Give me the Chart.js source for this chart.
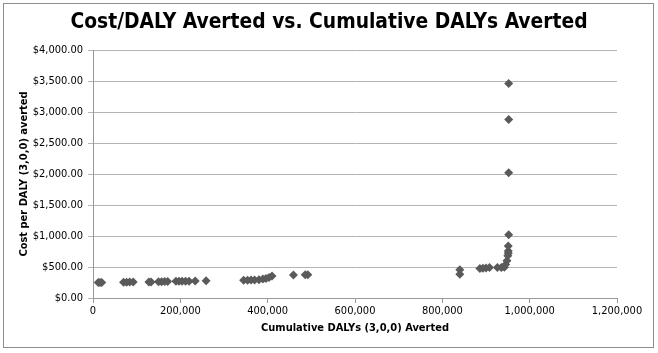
<!DOCTYPE html>
<html>
<head>
<meta charset="utf-8">
<script src="https://cdn.jsdelivr.net/npm/chart.js@4/dist/chart.umd.min.js"></script>
<style>
html,body{margin:0;padding:0;background:#fff;}
#wrap{position:absolute;left:0;top:0;width:658px;height:353px;}
</style>
</head>
<body>
<div id="wrap"><canvas id="c" width="658" height="353"></canvas></div>
<script>
const chartTitle = "Cost/DALY Averted vs. Cumulative DALYs Averted";
const xTitle = "Cumulative DALYs (3,0,0) Averted";
const yTitle = "Cost per DALY (3,0,0) averted";

const cumulativeDALYs = [12000,16000,20000, 70000,77000,84000,92000, 128000,133000,
  150000,157000,164000,171000, 190000,197000,204000,212000,220000, 234000, 259000,
  345000,354000,362000,370000,380000,389000,396000,403000,410000, 459000, 486000,492000,
  840000,840000, 886000,893000,900000,908000, 926000,935000,942000, 945000, 948000,
  950000,951000,951000,951000,952000,952000,952000,952000];
const costPerDALY = [250,250,250, 255,255,257,257, 258,258,
  262,262,265,265, 270,270,272,272,272, 275, 280,
  285,285,290,290,295,305,315,330,355, 370, 375,375,
  455,385, 475,480,485,490, 490,490,495, 540, 600,
  680,720,760,840,1020,2020,2880,3460];

const xMin = 0, xMax = 1200000, xStep = 200000;
const yMin = 0, yMax = 4000, yStep = 500;

const points = cumulativeDALYs.map((x, i) => ({x: x, y: costPerDALY[i]}));

const frame = {
  id: 'frame',
  beforeDraw(chart) {
    const ctx = chart.ctx;
    ctx.save();
    ctx.fillStyle = '#fff';
    ctx.fillRect(0, 0, chart.width, chart.height);
    ctx.strokeStyle = '#8c8c8c';
    ctx.lineWidth = 1;
    ctx.strokeRect(3.5, 3.5, 650, 344);
    ctx.restore();
  },
  afterDraw(chart) {
    const ctx = chart.ctx;
    ctx.save();
    ctx.fillStyle = '#000';
    ctx.font = 'bold 20.8px "DejaVu Sans Condensed"';
    ctx.textAlign = 'center';
    ctx.textBaseline = 'middle';
    ctx.fillText(chartTitle, 329, 23);
    ctx.restore();
  }
};

new Chart(document.getElementById('c'), {
  type: 'scatter',
  data: {
    datasets: [{
      data: points,
      pointStyle: 'rectRot',
      pointRadius: 4.5,
      pointBorderWidth: 0,
      backgroundColor: '#5a5a5a',
      borderColor: '#5a5a5a'
    }]
  },
  plugins: [frame],
  options: {
    responsive: false,
    animation: false,
    devicePixelRatio: 1,
    layout: {padding: {left: 12, right: 41, top: 50, bottom: 14}},
    plugins: {
      legend: {display: false},
      tooltip: {enabled: false},
      title: {display: false}
    },
    scales: {
      x: {
        type: 'linear',
        min: xMin, max: xMax,
        afterFit(s) { s.height = 41; },
        ticks: {
          stepSize: xStep,
          color: '#000',
          padding: 2,
          maxRotation: 0,
          font: {family: 'DejaVu Sans Condensed', size: 11},
          callback: v => v.toLocaleString('en-US')
        },
        grid: {display: true, drawOnChartArea: false, drawTicks: true, tickLength: 5, color: '#999'},
        border: {display: true, color: '#999'},
        title: {
          display: true, text: xTitle, color: '#000',
          font: {family: 'DejaVu Sans Condensed', size: 11, weight: 'bold'},
          padding: {top: 4, bottom: 4}
        }
      },
      y: {
        type: 'linear',
        min: yMin, max: yMax,
        afterFit(s) { s.width = 81; },
        ticks: {
          stepSize: yStep,
          color: '#000',
          padding: 5,
          font: {family: 'DejaVu Sans Condensed', size: 11},
          callback: v => '$' + v.toLocaleString('en-US', {minimumFractionDigits: 2, maximumFractionDigits: 2})
        },
        grid: {color: '#b3b3b3', tickLength: 5, drawTicks: true},
        border: {display: true, color: '#999'},
        title: {
          display: true, text: yTitle, color: '#000',
          font: {family: 'DejaVu Sans Condensed', size: 11, weight: 'bold'},
          padding: {top: 6, bottom: 4}
        }
      }
    }
  }
});
</script>
</body>
</html>
